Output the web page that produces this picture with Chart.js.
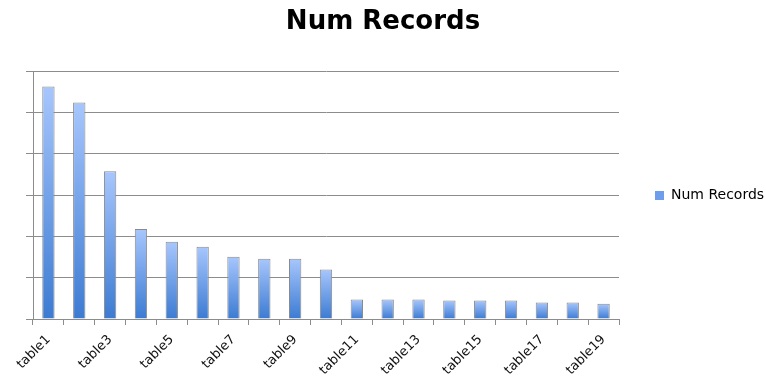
<!DOCTYPE html>
<html>
<head>
<meta charset="utf-8">
<script src="https://cdn.jsdelivr.net/npm/chart.js@4.4.1/dist/chart.umd.min.js"></script>
<style>
  html, body { margin: 0; padding: 0; background: #fff; }
  #wrap { width: 766px; height: 379px; }
</style>
</head>
<body>
<div id="wrap"><canvas id="recordsChart" width="766" height="379"></canvas></div>
<script>
const categories = [
    'table1', 'table2', 'table3', 'table4', 'table5', 'table6', 'table7',
    'table8', 'table9', 'table10', 'table11', 'table12', 'table13',
    'table14', 'table15', 'table16', 'table17', 'table18', 'table19'
];
// values (y axis has no labels, gridlines every 1000)
const numRecords = [
    5630, 5240, 3580, 2180, 1870, 1750, 1510, 1460, 1460, 1200,
    470, 470, 470, 450, 450, 450, 400, 400, 370
];
const yMin = 0;
const yMax = 6000;
const yStep = 1000;

const gridColor = '#8c8c8c';

function barGradient(context) {
    const chart = context.chart;
    const area = chart.chartArea;
    if (!area || context.dataIndex === undefined) return '#6d9eeb';
    const yScale = chart.scales.y;
    const top = yScale.getPixelForValue(context.raw);
    const bottom = yScale.getPixelForValue(0);
    if (!isFinite(top) || bottom - top < 1) return '#6d9eeb';
    const g = chart.ctx.createLinearGradient(0, top, 0, bottom);
    g.addColorStop(0, '#a7c6fd');
    g.addColorStop(1, '#3c7bd2');
    return g;
}

// keep the legend column a fixed width so the plot ends where the original does
const legendWidthPlugin = {
    id: 'legendWidth',
    beforeLayout(chart) {
        const legend = chart.legend;
        if (!legend || legend._fixedFit) return;
        const fit = legend.fit;
        legend.fit = function () {
            fit.call(this);
            this.width = 147;
        };
        legend._fixedFit = true;
    },
    afterLayout(chart) {
        const legend = chart.legend;
        if (!legend) return;
        legend.top += 6;
        legend.bottom += 6;
    }
};

const ctx = document.getElementById('recordsChart').getContext('2d');

new Chart(ctx, {
    type: 'bar',
    data: {
        labels: categories,
        datasets: [{
            label: 'Num Records',
            data: numRecords,
            backgroundColor: barGradient,
            borderColor: '#8a8a8a',
            borderWidth: 1,
            categoryPercentage: 1,
            barPercentage: 0.4
        }]
    },
    options: {
        responsive: false,
        animation: false,
        devicePixelRatio: 1,
        layout: { padding: 0 },
        scales: {
            x: {
                afterFit: scale => { scale.height = 60; },
                grid: {
                    offset: true,
                    drawOnChartArea: false,
                    color: gridColor,
                    tickLength: 6
                },
                border: { color: gridColor, width: 1 },
                ticks: {
                    autoSkip: false,
                    maxRotation: 45,
                    minRotation: 45,
                    padding: 7,
                    color: '#111',
                    font: { family: 'DejaVu Sans', size: 13 },
                    callback: function (value, index) {
                        return index % 2 === 0 ? this.getLabelForValue(value) : '';
                    }
                }
            },
            y: {
                min: yMin,
                max: yMax,
                afterFit: scale => { scale.width = 33; },
                grid: {
                    color: gridColor,
                    tickLength: 7
                },
                border: { color: gridColor, width: 1 },
                ticks: {
                    stepSize: yStep,
                    display: false
                }
            }
        },
        plugins: {
            title: {
                display: true,
                text: 'Num Records',
                color: '#000',
                font: { family: 'DejaVu Sans', size: 26, weight: 'bold' },
                padding: { top: 7, bottom: 33 }
            },
            legend: {
                position: 'right',
                labels: {
                    boxWidth: 9,
                    boxHeight: 9,
                    padding: 36,
                    color: '#111',
                    font: { family: 'DejaVu Sans', size: 14 },
                    generateLabels: chart => [{
                        text: 'Num Records',
                        fillStyle: '#6d9eeb',
                        strokeStyle: '#6d9eeb',
                        lineWidth: 0,
                        datasetIndex: 0
                    }]
                }
            },
            tooltip: { enabled: false }
        }
    },
    plugins: [legendWidthPlugin]
});
</script>
</body>
</html>
